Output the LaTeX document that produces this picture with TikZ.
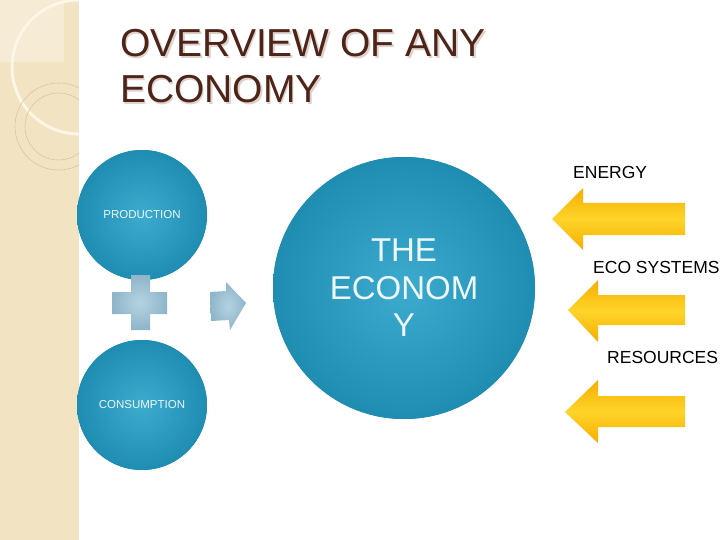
\documentclass[tikz,border=0pt]{standalone}
\usepackage{fontspec}
\setmainfont{Liberation Sans}
\definecolor{band}{HTML}{F2E3C2}
\definecolor{bandlight}{HTML}{F6EBD4}
\definecolor{arcwhite}{HTML}{FCF6E6}
\definecolor{tan}{HTML}{DCC79C}
\definecolor{titlebrown}{HTML}{4E2418}
\definecolor{titleshadow}{HTML}{DDD3CC}
\definecolor{tealin}{HTML}{3CABCE}
\definecolor{tealout}{HTML}{1F8DB2}
\definecolor{palein}{HTML}{B4D3E1}
\definecolor{paleout}{HTML}{8FB5C9}
\definecolor{goldmid}{HTML}{FFD42A}
\definecolor{goldedge}{HTML}{F5AE00}
\definecolor{circtext}{HTML}{EEF7FA}
\tikzset{
  x=1pt, y=-1pt,
  tealshade/.style={inner color=tealin, outer color=tealout},
  disctext/.style={inner sep=0pt, text=circtext, align=center},
  smalllbl/.style={font=\fontsize{11.5}{13}\selectfont},
  sidelbl/.style={anchor=base west, inner sep=0pt, font=\fontsize{17.5}{20}\selectfont, text=black},
  goldarrow/.style={top color=goldedge, bottom color=goldedge, middle color=goldmid},
  palefill/.style={inner color=palein, outer color=paleout},
  titlefont/.style={anchor=base west, inner sep=0pt, align=left, font=\fontsize{39}{46}\selectfont}
}
\begin{document}
\begin{tikzpicture}
\useasboundingbox (0,0) rectangle (720,540);
\clip (0,0) rectangle (720,540);
\fill[white] (0,0) rectangle (720,540);
% left decorative band
\fill[band] (0,0) rectangle (79,540);
\begin{scope}
  \clip (0,0) rectangle (79,540);
  \fill[bandlight] (0,0) rectangle (64,62);
  \draw[arcwhite, line width=3pt] (79,67) circle[radius=67];
  \draw[tan, line width=0.6pt] (58.5,126.5) circle[radius=43.5];
  \draw[tan, line width=0.6pt] (58.5,126.5) circle[radius=33.5];
\end{scope}
% title
\node[titlefont, text=titleshadow] at (121.5,104.5) {OVERVIEW OF ANY\\ECONOMY};
\node[titlefont, text=titlebrown] (title) at (120,103) {OVERVIEW OF ANY\\ECONOMY};
% circles
\fill[tealout] (142,215) circle[radius=65];
\fill[tealout] (142,405) circle[radius=65];
\fill[tealout] (404,288) circle[radius=131];
\shade[tealshade] (142,215) circle[radius=65];
\shade[tealshade] (142,405) circle[radius=65];
\shade[tealshade] (404,288) circle[radius=131];
\node[disctext, smalllbl] (prod) at (142,215) {PRODUCTION};
\node[disctext, smalllbl] (cons) at (142,405) {CONSUMPTION};
\node[disctext, font=\fontsize{33}{37.5}\selectfont] (econ) at (404,288) {THE\\ECONOM\\Y};
% plus sign
\shade[palefill] (131,275) -- (150,275) -- (150,292) -- (167,292) -- (167,314) -- (150,314) -- (150,330) -- (131,330) -- (131,314) -- (112,314) -- (112,292) -- (131,292) -- cycle;
% small right arrow
\shade[palefill] (210,292) -- (226,291) -- (226,282) -- (246,303) -- (230,330) -- (229,320) -- (211,321) -- cycle;
% yellow arrows
\shade[goldarrow] (552,219) -- (583,188) -- (583,203) -- (685,203) -- (685,235) -- (583,235) -- (583,250) -- cycle;
\shade[goldarrow] (568,310) -- (598,280) -- (598,295) -- (685,295) -- (685,325) -- (598,325) -- (598,342) -- cycle;
\shade[goldarrow] (565,412) -- (598,380) -- (598,396) -- (685,396) -- (685,427) -- (598,427) -- (598,443) -- cycle;
% labels
\node[sidelbl] (energy) at (573,179) {ENERGY};
\node[sidelbl] (eco) at (593,273) {ECO SYSTEMS};
\node[sidelbl] (res) at (607,363) {RESOURCES};
\end{tikzpicture}
\end{document}
